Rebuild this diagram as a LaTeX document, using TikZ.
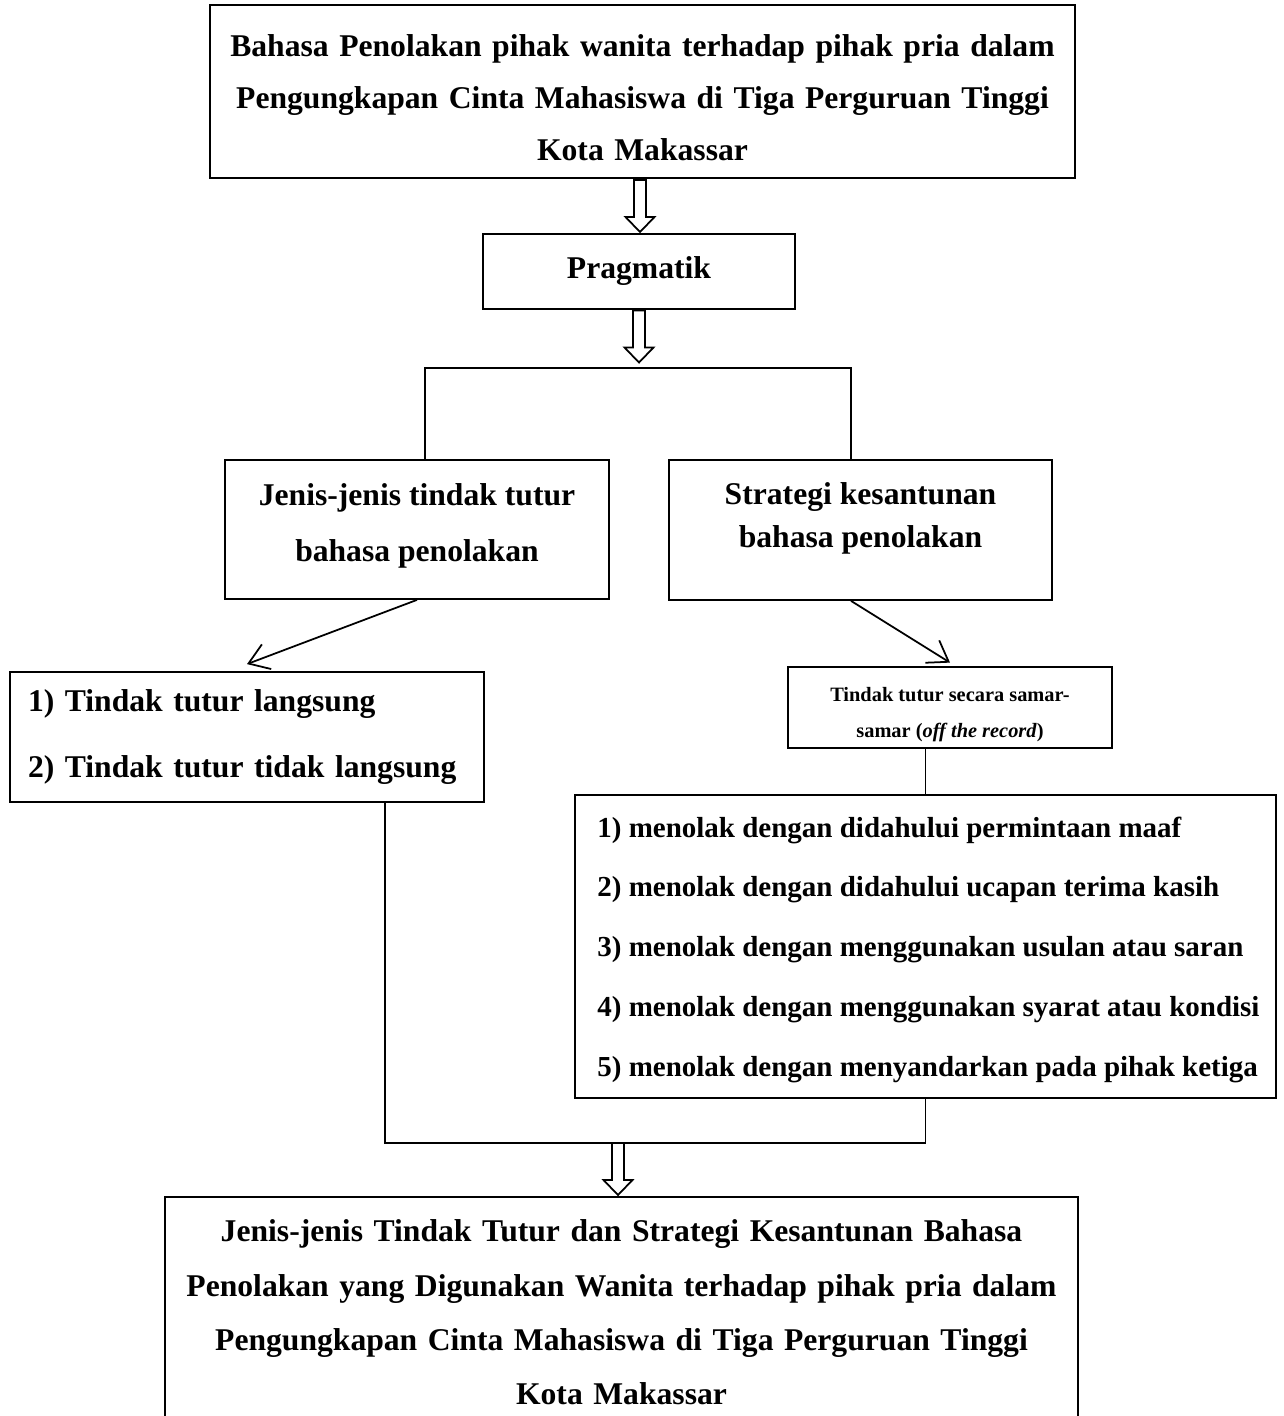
\documentclass[tikz,border=0pt]{standalone}
\usepackage{fontspec}
\setmainfont{Liberation Serif}
\usetikzlibrary{arrows.meta}
\tikzset{
	kotak/.style={draw, line width=1pt, inner sep=0pt},
	teks/.style={inner sep=0pt, align=center},
	panah/.style={line width=1pt, -{Straight Barb[length=11pt,width=15pt]}},
	garis/.style={line width=1pt},
	panahbesar/.pic={\draw[line width=1pt] (-0.12,0.52) -- (0.12,0.52) -- (0.12,-0.22) -- (0.29,-0.22) -- (0,-0.52) -- (-0.29,-0.22) -- (-0.12,-0.22) -- cycle;}
}
\begin{document}
\begin{tikzpicture}
				\useasboundingbox (0,0) rectangle (25.66,-28.32);
				\node[kotak, minimum width=17.3cm, minimum height=3.46cm] (judul) at (12.85,-1.83) {};
				\node[teks, text width=17.3cm, font=\fontsize{18}{29.6}\selectfont\bfseries] (judulteks) at (12.85,-1.95) {Bahasa Penolakan pihak wanita terhadap pihak pria dalam\\ Pengungkapan Cinta Mahasiswa di Tiga Perguruan Tinggi\\ Kota Makassar};
				\node[kotak, minimum width=6.24cm, minimum height=1.5cm, font=\fontsize{18}{22}\selectfont\bfseries] (prag) at (12.78,-5.43) {Pragmatik};
				\node[kotak, minimum width=7.68cm, minimum height=2.78cm] (jenis) at (8.34,-10.59) {};
				\node[teks, font=\fontsize{18}{31.9}\selectfont\bfseries] (jenisteks) at (8.34,-10.51) {Jenis-jenis tindak tutur\\ bahasa penolakan};
				\node[kotak, minimum width=7.66cm, minimum height=2.8cm] (strategi) at (17.21,-10.6) {};
				\node[teks, font=\fontsize{18}{24.5}\selectfont\bfseries] (strategiteks) at (17.21,-10.36) {Strategi kesantunan\\ bahasa penolakan};
				\node[kotak, minimum width=9.48cm, minimum height=2.6cm, inner xsep=0.36cm, text width=8.76cm, align=left, font=\fontsize{18}{37}\selectfont\bfseries] (langsung) at (4.94,-14.74) {1) Tindak tutur langsung\\ 2) Tindak tutur tidak langsung};
				\node[kotak, minimum width=6.48cm, minimum height=1.62cm] (samar) at (19.0,-14.15) {};
				\node[teks, font=\fontsize{11.6}{20.5}\selectfont\bfseries] (samarteks) at (19.0,-14.29) {Tindak tutur secara samar-\\ samar (\textit{off the record})};
				\node[kotak, minimum width=14.02cm, minimum height=6.06cm] (cara) at (18.51,-18.93) {};
				\node[teks, anchor=west, align=left, font=\fontsize{16.5}{34}\selectfont\bfseries] (carateks) at (11.94,-18.99) {1) menolak dengan didahului permintaan maaf\\ 2) menolak dengan didahului ucapan terima kasih\\ 3) menolak dengan menggunakan usulan atau saran\\ 4) menolak dengan menggunakan syarat atau kondisi\\ 5) menolak dengan menyandarkan pada pihak ketiga};
				\node[kotak, minimum width=18.26cm, minimum height=4.62cm, text width=18.26cm, align=center, font=\fontsize{18}{30.9}\selectfont\bfseries] (hasil) at (12.43,-26.25) {Jenis-jenis Tindak Tutur dan Strategi Kesantunan Bahasa\\ Penolakan yang Digunakan Wanita terhadap pihak pria dalam\\ Pengungkapan Cinta Mahasiswa di Tiga Perguruan Tinggi\\ Kota Makassar};
				\pic (p1) at (12.8,-4.12) {panahbesar};
				\pic (p2) at (12.78,-6.73) {panahbesar};
				\pic (p3) at (12.36,-23.38) {panahbesar};
				\coordinate (bl) at (8.5,-7.36);
				\coordinate (br) at (17.02,-7.36);
				\coordinate (sudut) at (7.7,-22.86);
				\draw[garis] (jenis.north -| bl) -- (bl) -- (br) -- (strategi.north -| br);
				\draw[panah] (jenis.south) -- ([yshift=4pt]langsung.north);
				\draw[panah] (strategi.south -| br) -- ([yshift=2pt]samar.north);
				\draw[garis] (cara.north |- samar.south) -- (cara.north);
				\draw[garis] (langsung.south -| sudut) -- (sudut) -| (cara.south);
			\end{tikzpicture}
\end{document}
